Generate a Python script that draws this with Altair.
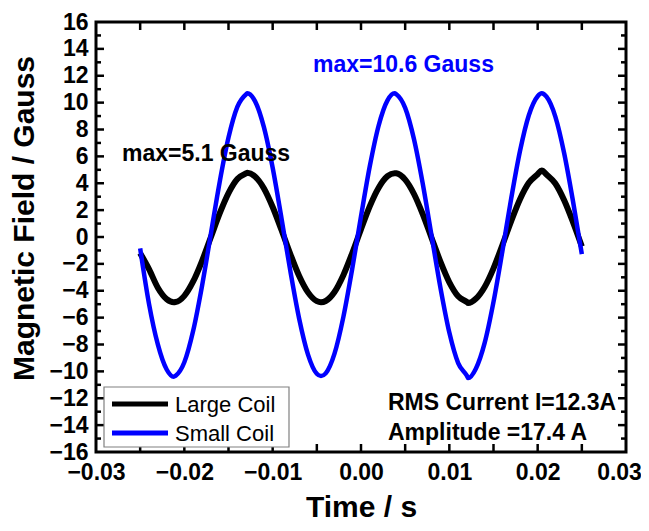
import altair as alt
import pandas as pd

FONT = "Liberation Sans"

# ---- data ----
time_ms = [-25, -24, -23, -22, -21.2, -21, -20, -19, -18, -17, -16, -15, -14, -13, -12.86,
           -12, -11, -10, -9, -8, -7, -6, -5, -4.53, -4, -3, -2, -1, 0, 1, 2, 3, 3.8, 4,
           5, 6, 7, 8, 9, 10, 11, 12, 12.13, 13, 14, 15, 16, 17, 18, 19, 20, 20.46, 21,
           22, 23, 24, 25]
small_coil = [-0.85, -4.97, -7.99, -9.86, -10.40, -10.33, -9.32, -6.98, -3.65, 0.22, 4.09,
              7.40, 9.68, 10.63, 10.70, 10.11, 8.19, 5.15, 1.39, -2.53, -6.08, -8.75, -10.18,
              -10.35, -10.15, -8.68, -5.96, -2.39, 1.54, 5.28, 8.30, 10.17, 10.70, 10.62,
              9.61, 7.27, 3.93, 0.06, -3.80, -7.11, -9.38, -10.34, -10.50, -9.80, -7.88,
              -4.83, -1.08, 2.85, 6.40, 9.06, 10.48, 10.70, 10.44, 8.96, 6.23, 2.66, -1.28]
large_coil = [-1.20, -2.39, -3.77, -4.62, -4.85, -4.84, -4.38, -3.31, -1.79, -0.02, 1.75,
              3.26, 4.31, 4.74, 4.78, 4.51, 3.63, 2.23, 0.52, -1.27, -2.90, -4.12, -4.77,
              -4.85, -4.76, -4.09, -2.84, -1.21, 0.58, 2.30, 3.67, 4.53, 4.75, 4.74,
              4.27, 3.20, 1.68, -0.09, -1.85, -3.37, -4.41, -4.85, -4.92, -4.60, -3.72,
              -2.33, -0.61, 1.18, 2.81, 4.03, 4.67, 4.95, 4.65, 3.98, 2.73, 1.10, -0.70]
series_names = ["Large Coil", "Small Coil"]
series_colors = ["#000000", "#0000ff"]

x_labels = [-0.03, -0.02, -0.01, 0.0, 0.01, 0.02, 0.03]
x_ticks = [-0.025, -0.02, -0.015, -0.01, -0.005, 0.0, 0.005, 0.01, 0.015, 0.02, 0.025]
y_labels = [-16, -14, -12, -10, -8, -6, -4, -2, 0, 2, 4, 6, 8, 10, 12, 14, 16]
y_major_ticks = [-14, -12, -10, -8, -6, -4, -2, 0, 2, 4, 6, 8, 10, 12, 14]
y_minor_ticks = [-15, -13, -11, -9, -7, -5, -3, -1, 1, 3, 5, 7, 9, 11, 13, 15]

note_large = "max=5.1 Gauss"
note_small = "max=10.6 Gauss"
note_rms = "RMS Current I=12.3A"
note_amp = "Amplitude =17.4 A"

# ---- tables ----
t_sec = [v / 1000 for v in time_ms]
df_large = pd.DataFrame({"t": t_sec, "B": large_coil})
df_small = pd.DataFrame({"t": t_sec, "B": small_coil})
df_xt = pd.DataFrame({"t": x_ticks})
df_ymaj = pd.DataFrame({"B": y_major_ticks})
df_ymin = pd.DataFrame({"B": y_minor_ticks})

W, H = 530, 430
x_scale = alt.Scale(domain=[-0.03, 0.03], nice=False, zero=False)
y_scale = alt.Scale(domain=[-16, 16], nice=False, zero=False)

x_axis = alt.Axis(values=x_labels, format=".2f", labelFont=FONT, labelFontSize=23,
                  labelFontWeight="bold", labelColor="black", labelPadding=9,
                  labelOffset={"condition": {"test": "datum.value > 0.025", "value": -7},
                               "value": 0},
                  labelFlush=False, labelOverlap=False, ticks=False, tickSize=0,
                  domain=False, grid=False, title="Time / s", titleFont=FONT,
                  titleFontSize=30, titleFontWeight="bold", titleColor="black",
                  titleX=W / 2, titleY=64, titleAlign="center", titleBaseline="alphabetic")
y_axis = alt.Axis(values=y_labels, format="d", labelFont=FONT, labelFontSize=23,
                  labelFontWeight="bold", labelColor="black", labelPadding=8,
                  labelFlush=False, labelOverlap=False, ticks=False, tickSize=0,
                  domain=False, grid=False, title="Magnetic Field / Gauss", titleFont=FONT,
                  titleFontSize=30, titleFontWeight="bold", titleColor="black",
                  titleX=-63, titleY=196, titleAngle=270, titleAlign="center",
                  titleBaseline="alphabetic")

X = lambda: alt.X("t:Q", scale=x_scale, axis=x_axis)
Y = lambda: alt.Y("B:Q", scale=y_scale, axis=y_axis)

line_large = alt.Chart(df_large).mark_line(
    color=series_colors[0], strokeWidth=6, interpolate="monotone"
).encode(x=X(), y=Y())

line_small = alt.Chart(df_small).mark_line(
    color=series_colors[1], strokeWidth=4.5, interpolate="monotone"
).encode(x=X(), y=Y())

TW = 2.5
xt_bottom = alt.Chart(df_xt).mark_rule(color="black", strokeWidth=TW).encode(
    x=X(), y=alt.value(H), y2=alt.value(H - 8))
xt_top = alt.Chart(df_xt).mark_rule(color="black", strokeWidth=TW).encode(
    x=X(), y=alt.value(0), y2=alt.value(8))
ymaj_left = alt.Chart(df_ymaj).mark_rule(color="black", strokeWidth=TW).encode(
    y=Y(), x=alt.value(0), x2=alt.value(8))
ymaj_right = alt.Chart(df_ymaj).mark_rule(color="black", strokeWidth=TW).encode(
    y=Y(), x=alt.value(W), x2=alt.value(W - 8))
ymin_left = alt.Chart(df_ymin).mark_rule(color="black", strokeWidth=TW).encode(
    y=Y(), x=alt.value(0), x2=alt.value(5))
ymin_right = alt.Chart(df_ymin).mark_rule(color="black", strokeWidth=TW).encode(
    y=Y(), x=alt.value(W), x2=alt.value(W - 5))

one = pd.DataFrame({"a": [0]})

def note(text, x, y, color):
    return alt.Chart(one).mark_text(
        align="left", baseline="alphabetic", font=FONT, fontSize=23,
        fontWeight="bold", color=color
    ).encode(x=alt.value(x), y=alt.value(y), text=alt.value(text))

notes = [
    note(note_large, 26, 139, "black"),
    note(note_small, 217, 50, "#0000ff"),
    note(note_rms, 292, 388, "black"),
    note(note_amp, 292, 418, "black"),
]

legend_box = alt.Chart(one).mark_rect(fill="white", stroke="#808080", strokeWidth=1.2).encode(
    x=alt.value(8), x2=alt.value(193), y=alt.value(365), y2=alt.value(425))
legend_items = []
for i, (name, col) in enumerate(zip(series_names, series_colors)):
    yy = 382 + i * 29
    legend_items.append(alt.Chart(one).mark_rule(color=col, strokeWidth=5).encode(
        x=alt.value(16), x2=alt.value(72), y=alt.value(yy)))
    legend_items.append(alt.Chart(one).mark_text(
        align="left", baseline="middle", font=FONT, fontSize=22, color="black"
    ).encode(x=alt.value(79), y=alt.value(yy + 1), text=alt.value(name)))

chart = alt.layer(
    line_large, line_small, xt_bottom, xt_top, ymaj_left, ymaj_right, ymin_left, ymin_right,
    *notes, legend_box, *legend_items
).properties(
    width=W, height=H, autosize="none", background="white",
    padding={"left": 88, "top": 14, "right": 15, "bottom": 71}
).configure_view(stroke="black", strokeWidth=3)

chart.save("out.html", embed_options={"renderer": "svg", "actions": False})
